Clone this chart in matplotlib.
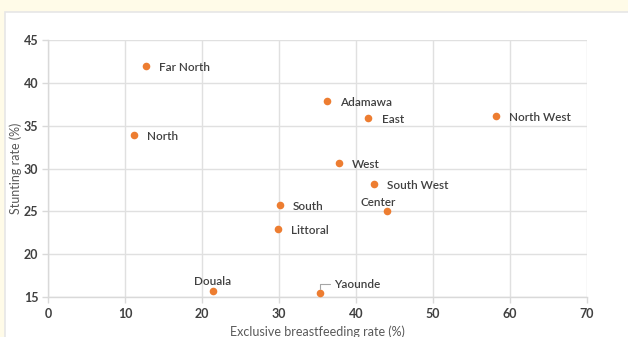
import matplotlib
matplotlib.use("Agg")
import matplotlib.pyplot as plt
from matplotlib.patches import Rectangle

regions = ["Far North", "North", "Adamawa", "East", "North West", "West",
           "South West", "Center", "South", "Littoral", "Douala", "Yaounde"]
breastfeeding = [12.7, 11.2, 36.2, 41.6, 58.2, 37.8, 42.3, 44.0, 30.1, 29.9, 21.4, 35.3]
stunting = [42.0, 33.9, 37.9, 35.9, 36.1, 30.6, 28.2, 25.0, 25.7, 22.9, 15.7, 15.5]

x_ticks = [0, 10, 20, 30, 40, 50, 60, 70]
y_ticks = [15, 20, 25, 30, 35, 40, 45]

plt.rcParams['font.family'] = ['Lato', 'DejaVu Sans']

W, H = 628, 337
fig = plt.figure(figsize=(W / 100, H / 100), dpi=100)
fig.patch.set_facecolor("#FFFBE8")

# white card behind the chart
card = Rectangle((5 / W, -0.01), 1, 1 - 12 / H + 0.01, transform=fig.transFigure,
                 facecolor="white", edgecolor="#E6E6E6", linewidth=1.2, zorder=-10)
fig.patches.append(card)

ax = fig.add_axes([48 / W, 1 - 297 / H, (587 - 48) / W, (297 - 40) / H])
ax.set_facecolor("white")
ax.set_xlim(0, 70)
ax.set_ylim(15, 45)
ax.set_xticks(x_ticks)
ax.set_yticks(y_ticks)
ax.grid(True, color="#E0E0E0", linewidth=1.0)
ax.set_axisbelow(True)
for side in ["top", "right"]:
    ax.spines[side].set_visible(False)
for side in ["left", "bottom"]:
    ax.spines[side].set_color("#D9D9D9")
    ax.spines[side].set_linewidth(1.0)
ax.tick_params(axis="both", colors="#D9D9D9", length=4, width=1,
               labelcolor="#404040", labelsize=9)
for lbl in ax.get_xticklabels() + ax.get_yticklabels():
    lbl.set_fontweight("bold")
ax.tick_params(axis="x", pad=4)
ax.tick_params(axis="y", pad=3)

ax.scatter(breastfeeding, stunting, s=30, color="#ED7D31", zorder=3, linewidths=0)

label_style = dict(fontsize=8.5, color="#404040", fontweight="semibold")
for name, x, y in zip(regions, breastfeeding, stunting):
    if name == "Center":
        ax.annotate(name, (x, y), xytext=(-6.5, 2.5), textcoords="offset points",
                    ha="center", va="bottom", **label_style)
    elif name == "Douala":
        ax.annotate(name, (x, y), xytext=(-0.5, 3), textcoords="offset points",
                    ha="center", va="bottom", **label_style)
    elif name == "Yaounde":
        ax.annotate(name, (x, y), xytext=(10, 6), textcoords="offset points",
                    ha="left", va="center",
                    arrowprops=dict(arrowstyle="-", color="#A6A6A6", lw=0.8,
                                    connectionstyle="angle,angleA=0,angleB=90,rad=0",
                                    shrinkA=1, shrinkB=3),
                    **label_style)
    else:
        ax.annotate(name, (x, y), xytext=(9.5, -1), textcoords="offset points",
                    ha="left", va="center", **label_style)

ax.set_xlabel("Exclusive breastfeeding rate (%)", fontsize=9, color="#595959", labelpad=4)
ax.set_ylabel("Stunting rate (%)", fontsize=9, color="#595959")
ax.yaxis.set_label_coords(-0.048, 0.5)

fig.savefig("out.png", dpi=100, facecolor=fig.get_facecolor())
